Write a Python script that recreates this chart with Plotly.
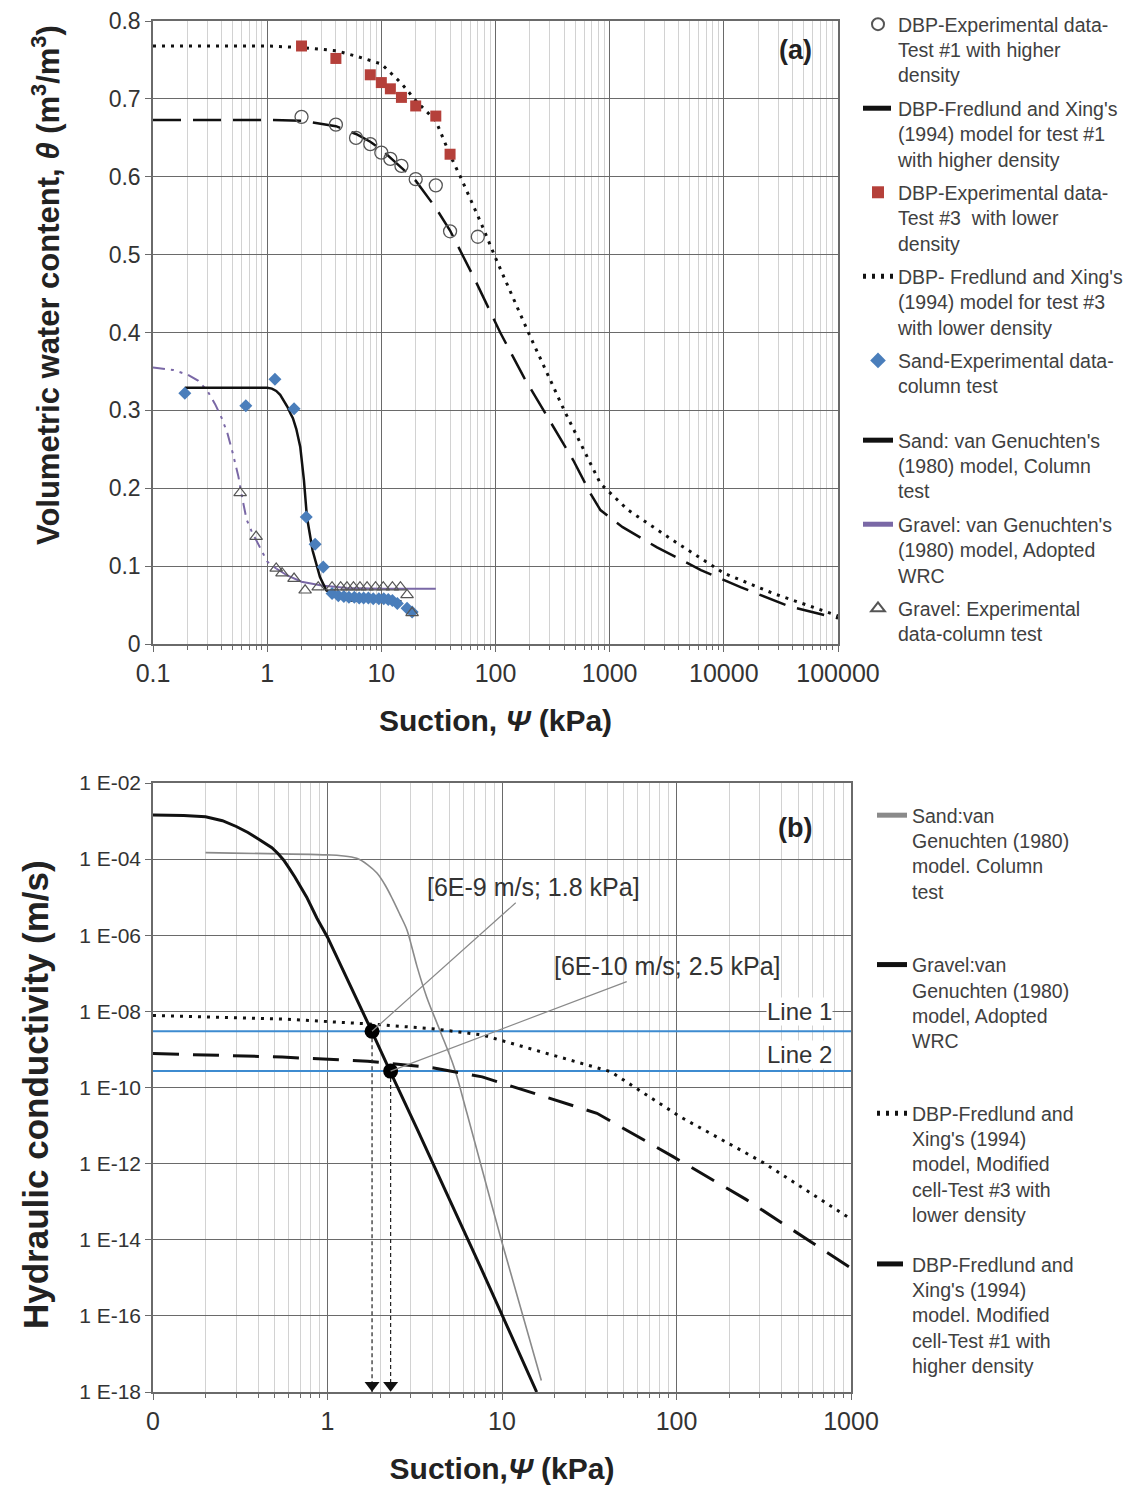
import math
import plotly.graph_objects as go

# ---------------- (a) water retention data ----------------
t1_x = [2, 4, 6, 8, 10, 12, 15, 20, 30, 40, 70]
t1_y = [0.677, 0.667, 0.650, 0.642, 0.631, 0.623, 0.614, 0.597, 0.589, 0.530, 0.523]

t3_x = [2, 4, 8, 10, 12, 15, 20, 30, 40]
t3_y = [0.768, 0.752, 0.731, 0.721, 0.713, 0.702, 0.691, 0.678, 0.629]

fx1_x = [0.1, 1, 2, 4, 6, 8, 10, 15, 20, 30, 40, 65, 110, 178, 300, 480, 680, 830,
         1300, 2600, 6300, 14000, 38000, 87000, 100000]
fx1_y = [0.673, 0.673, 0.672, 0.665, 0.655, 0.645, 0.635, 0.612, 0.595, 0.56, 0.531, 0.47,
         0.40, 0.342, 0.287, 0.236, 0.193, 0.172, 0.15, 0.124, 0.095, 0.073, 0.048, 0.035, 0.033]

fx3_x = [0.1, 1, 2, 4, 6, 10, 15, 20, 30, 40, 50, 75, 100, 190, 400, 830, 1450, 3600,
         10000, 27000, 88000, 100000]
fx3_y = [0.768, 0.768, 0.766, 0.762, 0.755, 0.745, 0.72, 0.698, 0.672, 0.628, 0.598, 0.54,
         0.496, 0.403, 0.30, 0.206, 0.172, 0.133, 0.091, 0.065, 0.039, 0.036]

sand_x = [0.19, 0.65, 1.17, 1.72, 2.2, 2.63, 3.1, 3.7, 4.2, 4.7, 5.2, 5.8, 6.4, 7.0, 7.7,
          8.5, 9.5, 10.5, 11.5, 12.5, 13.8, 16.8, 18.6]
sand_y = [0.322, 0.306, 0.34, 0.302, 0.163, 0.128, 0.099, 0.065, 0.062, 0.061, 0.060, 0.060,
          0.059, 0.059, 0.059, 0.058, 0.058, 0.058, 0.057, 0.056, 0.052, 0.046, 0.041]

sandvg_x = [0.19, 1.0, 1.1, 1.2, 1.3, 1.4, 1.5, 1.6, 1.68, 1.8, 1.95, 2.1, 2.23, 2.5, 2.9,
            3.3, 4.1, 5.3, 10, 15]
sandvg_y = [0.329, 0.329, 0.328, 0.325, 0.32, 0.313, 0.305, 0.296, 0.29, 0.276, 0.253, 0.21,
            0.163, 0.12, 0.086, 0.069, 0.061, 0.056, 0.055, 0.055]

gravvg_x1 = [0.1, 0.15, 0.2, 0.25, 0.3, 0.35, 0.4, 0.45, 0.5, 0.56, 0.6, 0.66, 0.73, 0.9, 1.0, 1.2]
gravvg_y1 = [0.355, 0.352, 0.346, 0.338, 0.325, 0.308, 0.29, 0.27, 0.245, 0.215, 0.19, 0.16,
             0.145, 0.118, 0.106, 0.097]
gravvg_x2 = [1.2, 1.5, 2, 3, 5, 10, 30]
gravvg_y2 = [0.097, 0.088, 0.08, 0.075, 0.072, 0.071, 0.071]

grav_x = [0.58, 0.80, 1.2, 1.35, 1.72, 2.15, 2.8, 3.7, 4.4, 5.0, 5.7, 6.5, 7.5, 8.9, 10.4,
          12.5, 14.7, 16.8, 18.6]
grav_y = [0.194, 0.138, 0.097, 0.091, 0.084, 0.069, 0.073, 0.073, 0.073, 0.073, 0.073, 0.073,
          0.073, 0.073, 0.073, 0.073, 0.073, 0.063, 0.040]

# ---------------- (b) hydraulic conductivity data ----------------
sandK_x = [0.2, 1.0, 1.2, 1.47, 1.7, 1.92, 2.15, 2.37, 2.6, 2.85, 3.05, 3.26, 3.7, 4.4, 5.3,
           6.3, 10, 16.8]
sandK_y = [1.48e-4, 1.29e-4, 1.23e-4, 1.05e-4, 7.1e-5, 4.3e-5, 2.0e-5, 8.5e-6, 3.5e-6, 1.4e-6,
           4.7e-7, 1.5e-7, 2.4e-8, 3.2e-9, 3.5e-10, 2.1e-11, 8.5e-15, 2.0e-18]

gravK_x = [0.1, 0.15, 0.2, 0.25, 0.3, 0.35, 0.41, 0.48, 0.52, 0.56, 0.6, 0.65, 0.76, 0.87, 1.0,
           1.35, 1.8, 2.3, 3.27, 7.5, 15.8]
gravK_y = [1.45e-3, 1.41e-3, 1.29e-3, 1.02e-3, 7.2e-4, 5.0e-4, 3.2e-4, 2.0e-4, 1.41e-4, 9.5e-5,
           6.0e-5, 3.4e-5, 1.0e-5, 2.8e-6, 8.9e-7, 5.0e-8, 2.9e-9, 2.5e-10, 7.9e-12, 2.0e-15, 1.0e-18]

dotK_x = [0.1, 0.55, 1.7, 4, 7.7, 18, 42, 105, 316, 1000]
dotK_y = [7.8e-9, 6.3e-9, 4.7e-9, 3.5e-9, 2.4e-9, 7.8e-10, 2.6e-10, 1.7e-11, 1.05e-12, 3.5e-14]

dashK_x = [0.1, 0.55, 1.7, 4, 7.7, 11.6, 35, 95, 250, 600, 1000]
dashK_y = [7.8e-10, 6.3e-10, 4.9e-10, 3.3e-10, 1.9e-10, 1.05e-10, 2.1e-11, 1.55e-12, 1.15e-13,
           8.3e-15, 1.8e-15]

line_K = [3.0e-9, 2.7e-10]          # Line 1, Line 2
line_names = ["Line 1", "Line 2"]
pt_x = [1.8, 2.3]                    # intersection suctions
pt_K = [3.0e-9, 2.7e-10]
pt_labels = ["[6E-9 m/s; 1.8 kPa]", "[6E-10 m/s; 2.5 kPa]"]
arrow_K = 1.5e-18                    # arrowheads sit just above the axis floor (1E-18)

a_xticks = [0.1, 1, 10, 100, 1000, 10000, 100000]
a_xticktext = ["0.1", "1", "10", "100", "1000", "10000", "100000"]
a_yticks = [0, 0.1, 0.2, 0.3, 0.4, 0.5, 0.6, 0.7, 0.8]
a_yticktext = ["0", "0.1", "0.2", "0.3", "0.4", "0.5", "0.6", "0.7", "0.8"]
b_xticks = [0.1, 1, 10, 100, 1000]
b_xticktext = ["0", "1", "10", "100", "1000"]
b_yticks = [1e-2, 1e-4, 1e-6, 1e-8, 1e-10, 1e-12, 1e-14, 1e-16, 1e-18]
b_yticktext = ["1 E-02", "1 E-04", "1 E-06", "1 E-08", "1 E-10", "1 E-12", "1 E-14", "1 E-16", "1 E-18"]

# page offset of the figure (default 8px body margin) -> figure drawn 8px in
OFF = 8
W, H = 1138 - OFF, 1488 - OFF


def fx(p):   # page pixel x -> paper fraction
    return (p - OFF) / W


def fy(p):   # page pixel y -> paper fraction
    return 1 - (p - OFF) / H


FONT = "Arial, Liberation Sans, sans-serif"
MAJ = "#6a6a6a"
MIN = "#d2d2d2"
TXT = "#333333"


def minor_vals(lo, hi):
    out = []
    d = lo
    while d < hi:
        for k in range(2, 10):
            out.append(k * d)
        d *= 10
    return out


fig = go.Figure()

# ---- (a) lines ----
fig.add_trace(go.Scatter(x=gravvg_x1, y=gravvg_y1, mode="lines", showlegend=False,
                         line=dict(color="#7A68A6", width=2, dash="12px,6px,3px,6px,3px,6px"),
                         xaxis="x", yaxis="y"))
fig.add_trace(go.Scatter(x=gravvg_x2, y=gravvg_y2, mode="lines",
                         name="Gravel: van Genuchten's<br>(1980) model, Adopted<br>WRC",
                         legend="legend3", legendgroup="a7", legendrank=7,
                         line=dict(color="#7A68A6", width=2), xaxis="x", yaxis="y"))
fig.add_trace(go.Scatter(x=sandvg_x, y=sandvg_y, mode="lines",
                         name="Sand: van Genuchten's<br>(1980) model, Column<br>test",
                         legend="legend3", legendgroup="a6", legendrank=6,
                         line=dict(color="#111111", width=2.5), xaxis="x", yaxis="y"))
fig.add_trace(go.Scatter(x=fx1_x, y=fx1_y, mode="lines",
                         name="DBP-Fredlund and Xing's<br>(1994) model for test #1<br>with higher density",
                         legend="legend", legendgroup="a2", legendrank=2,
                         line=dict(color="#111111", width=2.5, dash="28px,12px"), xaxis="x", yaxis="y"))
fig.add_trace(go.Scatter(x=fx3_x, y=fx3_y, mode="lines",
                         name="DBP- Fredlund and Xing's<br>(1994) model for test #3<br>with lower density",
                         legend="legend", legendgroup="a4", legendrank=4,
                         line=dict(color="#111111", width=3, dash="3px,6px"), xaxis="x", yaxis="y"))
# ---- (a) markers ----
fig.add_trace(go.Scatter(x=t1_x, y=t1_y, mode="markers",
                         name="DBP-Experimental data-<br>Test #1 with higher<br>density",
                         legend="legend", legendgroup="a1", legendrank=1,
                         marker=dict(symbol="circle-open", size=13, color="#555555", line=dict(width=1.3)),
                         xaxis="x", yaxis="y"))
fig.add_trace(go.Scatter(x=t3_x, y=t3_y, mode="markers",
                         name="DBP-Experimental data-<br>Test #3  with lower<br>density",
                         legend="legend", legendgroup="a3", legendrank=3,
                         marker=dict(symbol="square", size=11, color="#B5403A"), xaxis="x", yaxis="y"))
fig.add_trace(go.Scatter(x=sand_x, y=sand_y, mode="markers",
                         name="Sand-Experimental data-<br>column test",
                         legend="legend", legendgroup="a5", legendrank=5,
                         marker=dict(symbol="diamond", size=10, color="#4A7EBB"), xaxis="x", yaxis="y"))
fig.add_trace(go.Scatter(x=grav_x, y=grav_y, mode="markers",
                         name="Gravel: Experimental<br>data-column test",
                         legend="legend3", legendgroup="a8", legendrank=8,
                         marker=dict(symbol="triangle-up-open", size=11, color="#555555", line=dict(width=1.2)),
                         xaxis="x", yaxis="y"))

# ---- (b) ----
for kv in line_K:
    fig.add_trace(go.Scatter(x=[0.1, 1000], y=[kv, kv], mode="lines", showlegend=False,
                             line=dict(color="#3D8BD0", width=2), xaxis="x2", yaxis="y2"))
fig.add_trace(go.Scatter(x=sandK_x, y=sandK_y, mode="lines", line_shape="spline",
                         name="Sand:van<br>Genuchten (1980)<br>model. Column<br>test",
                         legend="legend2", legendgroup="b1", legendrank=1,
                         line=dict(color="#8a8a8a", width=1.6), xaxis="x2", yaxis="y2"))
fig.add_trace(go.Scatter(x=gravK_x, y=gravK_y, mode="lines",
                         name="Gravel:van<br>Genuchten (1980)<br>model, Adopted<br>WRC",
                         legend="legend2", legendgroup="b2", legendrank=2,
                         line=dict(color="#111111", width=3), xaxis="x2", yaxis="y2"))
fig.add_trace(go.Scatter(x=dotK_x, y=dotK_y, mode="lines",
                         name="DBP-Fredlund and<br>Xing's (1994)<br>model, Modified<br>cell-Test #3 with<br>lower density",
                         legend="legend4", legendgroup="b3", legendrank=3,
                         line=dict(color="#111111", width=3, dash="3px,6px"), xaxis="x2", yaxis="y2"))
fig.add_trace(go.Scatter(x=dashK_x, y=dashK_y, mode="lines",
                         name="DBP-Fredlund and<br>Xing's (1994)<br>model. Modified<br>cell-Test #1 with<br>higher density",
                         legend="legend4", legendgroup="b4", legendrank=4,
                         line=dict(color="#111111", width=3, dash="26px,14px"), xaxis="x2", yaxis="y2"))
for px_, pk in zip(pt_x, pt_K):
    fig.add_trace(go.Scatter(x=[px_, px_], y=[pk, 1e-18], mode="lines", showlegend=False,
                             line=dict(color="#222222", width=1.2, dash="4px,3px"), xaxis="x2", yaxis="y2"))
fig.add_trace(go.Scatter(x=pt_x, y=[arrow_K] * len(pt_x), mode="markers", showlegend=False,
                         marker=dict(symbol="triangle-down", size=13, color="#111111"),
                         xaxis="x2", yaxis="y2"))
fig.add_trace(go.Scatter(x=pt_x, y=pt_K, mode="markers", showlegend=False,
                         marker=dict(size=15, color="#000000"), xaxis="x2", yaxis="y2"))

annotations = [
    dict(text="<b>(a)</b>", x=fx(795), y=fy(50), xref="paper", yref="paper", showarrow=False,
         xanchor="center", yanchor="middle", font=dict(size=27, color="#222")),
    dict(text="<b>(b)</b>", x=fx(795), y=fy(828), xref="paper", yref="paper", showarrow=False,
         xanchor="center", yanchor="middle", font=dict(size=27, color="#222")),
    dict(text="<b>Volumetric water content, <i>θ</i> (m<sup>3</sup>/m<sup>3</sup>)</b>",
         x=fx(46), y=fy(285), xref="paper", yref="paper", showarrow=False, textangle=-90,
         xanchor="center", yanchor="middle", font=dict(size=31, color="#222")),
    dict(text="<b>Hydraulic conductivity (m/s)</b>",
         x=fx(35), y=fy(1095), xref="paper", yref="paper", showarrow=False, textangle=-90,
         xanchor="center", yanchor="middle", font=dict(size=35, color="#222")),
]
offs = [(161, -144), (277, -105)]
for (px_, pk, lab, (ax, ay)) in zip(pt_x, pt_K, pt_labels, offs):
    annotations.append(dict(text=lab, x=math.log10(px_), y=math.log10(pk), xref="x2", yref="y2",
                            showarrow=True, arrowhead=0, arrowwidth=1.2, arrowcolor="#8a8a8a",
                            ax=ax, ay=ay, standoff=0, font=dict(size=25, color=TXT)))
label_y = [-8.0, -9.12]
for name, ly in zip(line_names, label_y):
    annotations.append(dict(text=name, x=math.log10(510), y=ly, xref="x2", yref="y2",
                            showarrow=False, bgcolor="white", borderpad=0,
                            font=dict(size=24, color=TXT)))


def axis_style(tsize):
    return dict(showgrid=True, gridcolor=MAJ, gridwidth=1.4, showline=True, linecolor=MAJ,
                linewidth=1.5, mirror=True, zeroline=False, ticks="outside", ticklen=6,
                tickcolor=MAJ, automargin=False, ticklabeloverflow="allow",
                tickfont=dict(size=tsize, color=TXT, family=FONT))


def legend_style(px_x, px_y, gap):
    return dict(x=fx(px_x), y=fy(px_y), xanchor="left", yanchor="top", valign="top",
                font=dict(size=19.5, color="#404040", family=FONT), bgcolor="rgba(0,0,0,0)",
                tracegroupgap=gap, itemsizing="constant")


fig.update_layout(
    width=W, height=H, margin=dict(l=0, r=0, t=0, b=0, autoexpand=False),
    paper_bgcolor="white", plot_bgcolor="white",
    font=dict(family=FONT, color=TXT),
    xaxis=dict(type="log", range=[-1, 5], domain=[fx(153), fx(838)], anchor="y",
               tickvals=a_xticks, ticktext=a_xticktext,
               minor=dict(tickvals=minor_vals(0.1, 100000), showgrid=True, gridcolor=MIN, gridwidth=1,
                          ticks="outside", ticklen=4, tickcolor=MAJ),
               title=dict(text="<b>Suction, <i>Ψ</i> (kPa)</b>", font=dict(size=30, color="#222"), standoff=24),
               **axis_style(25)),
    yaxis=dict(range=[0, 0.8001], domain=[fy(644), fy(21)], anchor="x",
               tickvals=a_yticks, ticktext=a_yticktext,
               **axis_style(23)),
    xaxis2=dict(type="log", range=[-1, 3], domain=[fx(153), fx(851)], anchor="y2",
                tickvals=b_xticks, ticktext=b_xticktext,
                minor=dict(tickvals=minor_vals(0.1, 1000), showgrid=True, gridcolor=MIN, gridwidth=1,
                           ticks="outside", ticklen=4, tickcolor=MAJ),
                title=dict(text="<b>Suction,<i>Ψ</i> (kPa)</b>", font=dict(size=30, color="#222"), standoff=24),
                **axis_style(25)),
    yaxis2=dict(type="log", range=[-18, -2], domain=[fy(1392), fy(783)], anchor="x2",
                tickvals=b_yticks, ticktext=b_yticktext,
                **axis_style(21)),
    legend=legend_style(858, 5, 5),
    legend3=legend_style(858, 421, 5),
    legend2=legend_style(872, 796, 45),
    legend4=legend_style(872, 1094, 21),
    annotations=annotations,
)

fig.write_html("out.html")
